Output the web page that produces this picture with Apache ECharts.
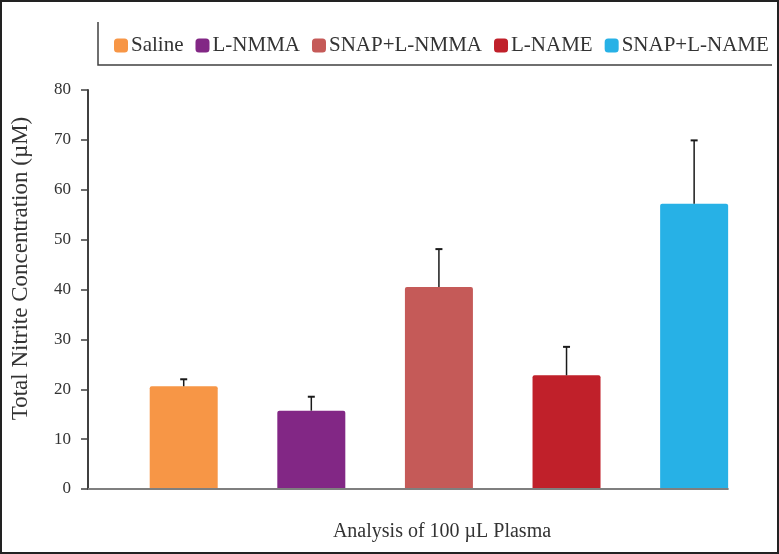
<!DOCTYPE html>
<html>
<head>
<meta charset="utf-8">
<script src="https://cdn.jsdelivr.net/npm/echarts@6/dist/echarts.min.js"></script>
<style>
  html, body { margin: 0; padding: 0; background: #fff; }
  #chart { width: 779px; height: 554px; }
</style>
</head>
<body>
<div id="chart"></div>
<script>
// ---- data ----
const groups = ['Saline', 'L-NMMA', 'SNAP+L-NMMA', 'L-NAME', 'SNAP+L-NAME'];
const means = [20.6, 15.7, 40.5, 22.8, 57.2];
const errors = [1.4, 2.8, 7.6, 5.7, 12.7];
const colors = ['#F79646', '#822785', '#C55A58', '#C0202A', '#27B1E6'];
const yTicks = { min: 0, max: 80, interval: 10 };
const yTitle = 'Total Nitrite Concentration (\u00B5M)';
const xTitle = 'Analysis of 100 \u00B5L Plasma';

const FONT = '"Liberation Serif", "DejaVu Serif", serif';
const chart = echarts.init(document.getElementById('chart'), null, { renderer: 'canvas' });

const barSeries = groups.map((g, i) => ({
  name: g,
  type: 'bar',
  barWidth: 68,
  barGap: '-100%',
  data: [[i + 1, means[i]]],
  itemStyle: { color: colors[i], borderRadius: [2, 2, 0, 0] },
  emphasis: { disabled: true },
  z: 2
}));

const errorSeries = {
  type: 'custom',
  name: 'error',
  silent: true,
  z: 5,
  data: groups.map((g, i) => [i + 1, means[i], errors[i]]),
  renderItem: function (params, api) {
    const x = api.value(0), m = api.value(1), e = api.value(2);
    const p0 = api.coord([x, m]);
    const p1 = api.coord([x, m + e]);
    return {
      type: 'group',
      children: [
        { type: 'line', shape: { x1: p0[0], y1: p0[1], x2: p1[0], y2: p1[1] },
          style: { stroke: '#1a1a1a', lineWidth: 1.5 } },
        { type: 'line', shape: { x1: p1[0] - 3.5, y1: p1[1], x2: p1[0] + 3.5, y2: p1[1] },
          style: { stroke: '#1a1a1a', lineWidth: 2 } }
      ]
    };
  },
  markLine: {
    silent: true,
    symbol: 'none',
    label: { show: false },
    lineStyle: { color: '#7f7f7f', width: 2, type: 'solid' },
    data: [[{ coord: [0.25, 0] }, { coord: [groups.length + 0.27, 0] }]]
  }
};

const option = {
  backgroundColor: '#fff',
  animation: false,
  legend: {
    data: groups,
    left: 109,
    top: 30,
    icon: 'roundRect',
    itemWidth: 14,
    itemHeight: 14,
    itemGap: 12,
    textStyle: { fontFamily: FONT, fontSize: 21, color: '#333', padding: [0, 0, 0, -2] },
    selectedMode: false
  },
  grid: { left: 88, top: 90, right: 0, bottom: 65, containLabel: false },
  xAxis: {
    type: 'value',
    min: 0.25,
    max: 5.665,
    axisLine: { show: false },
    axisTick: { show: false },
    axisLabel: { show: false },
    splitLine: { show: false },
    name: xTitle,
    nameLocation: 'middle',
    nameGap: 33,
    nameTextStyle: { fontFamily: FONT, fontSize: 20, color: '#333', padding: [0, 0, 0, 17] }
  },
  yAxis: {
    type: 'value',
    min: yTicks.min,
    max: yTicks.max,
    interval: yTicks.interval,
    axisLine: { show: true, lineStyle: { color: '#404040', width: 2 } },
    axisTick: { show: true, length: 7, lineStyle: { color: '#404040', width: 1.5 } },
    axisLabel: { fontFamily: FONT, fontSize: 17, color: '#333', margin: 17 },
    splitLine: { show: false },
    name: yTitle,
    nameLocation: 'middle',
    nameGap: 56,
    nameTextStyle: { fontFamily: FONT, fontSize: 23, color: '#333', padding: [0, 0, 0, 42] }
  },
  graphic: [
    { type: 'polyline', silent: true, z: 10,
      shape: { points: [[98, 22], [98, 65], [772, 65]] },
      style: { stroke: '#404040', lineWidth: 1.5, fill: null } },
    { type: 'rect', silent: true, z: 10,
      shape: { x: 1, y: 1, width: 777, height: 552 },
      style: { stroke: '#222', lineWidth: 2, fill: null } }
  ],
  series: barSeries.concat([errorSeries])
};

chart.setOption(option);
</script>
</body>
</html>
